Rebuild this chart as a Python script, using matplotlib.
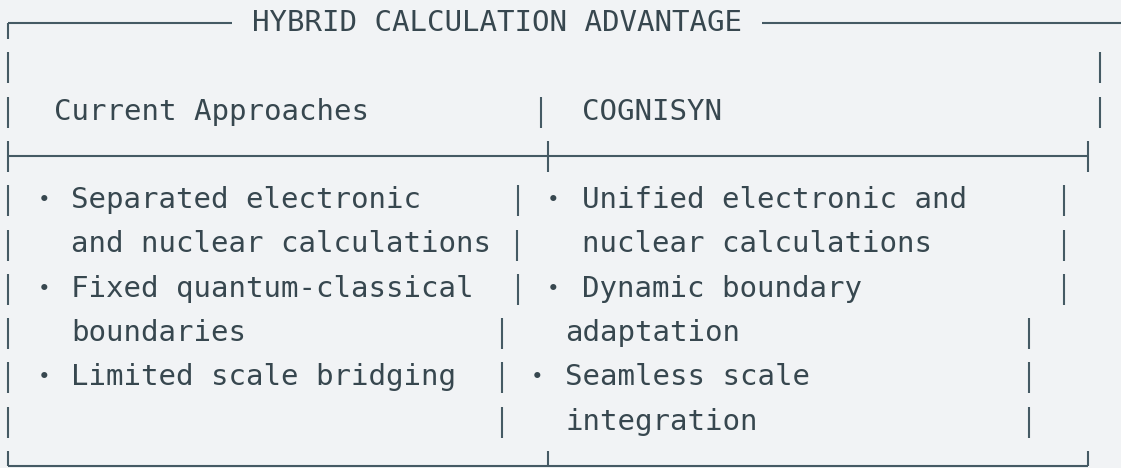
import matplotlib
matplotlib.use('Agg')
import matplotlib.pyplot as plt

#######################################################
# Content of the box
#######################################################
title = 'HYBRID CALCULATION ADVANTAGE'
headers = ['Current Approaches', 'COGNISYN']

# (bullet, text) per body row
left_rows = [('•', 'Separated electronic'),
             ('', 'and nuclear calculations'),
             ('•', 'Fixed quantum-classical'),
             ('', 'boundaries'),
             ('•', 'Limited scale bridging'),
             ('', '')]
right_rows = [('•', 'Unified electronic and'),
              ('', 'nuclear calculations'),
              ('•', 'Dynamic boundary'),
              ('', 'adaptation'),
              ('•', 'Seamless scale'),
              ('', 'integration')]

#######################################################
# Layout (pixels, origin top-left)
#######################################################
W, H = 1121, 468
row_pitch = 44.3
base0 = 31.0
baselines = [base0 + i * row_pitch for i in range(11)]

# x of the middle / right bars for the 6 body rows (text is ragged)
mid_bar = [518, 517, 518, 502, 502, 502]
right_bar = [1064, 1064, 1064, 1029, 1029, 1029]
right_bullet = [553, 553, 553, 537, 537, 537]
right_text = [582, 582, 582, 565, 565, 565]

txt_col = '#37474f'
line_col = '#455a64'
bg = '#f1f3f5'
fsize = 21
mono = 'DejaVu Sans Mono'
lw = 1.5

fig = plt.figure(figsize=(W / 100, H / 100), dpi=100, facecolor=bg)
ax = fig.add_axes([0, 0, 1, 1])
ax.set_facecolor(bg)
ax.set_xlim(0, W)
ax.set_ylim(H, 0)
ax.axis('off')


def put(x, row, s, ha='left'):
    ax.text(x, baselines[row], s, ha=ha, va='baseline',
            fontsize=fsize, family=mono, color=txt_col)


def bullet(x, row, s):
    # small bullet sitting at x-height centre
    ax.text(x, baselines[row] - 8, s, ha='center', va='center',
            fontsize=fsize * 0.72, family=mono, color=txt_col)


def vbar(x, row, top=-23, bot=8):
    b = baselines[row]
    ax.plot([x, x], [b + top, b + bot], color=line_col, lw=lw,
            solid_capstyle='butt')


def hline(x0, x1, row, off=-8):
    y = baselines[row] + off
    ax.plot([x0, x1], [y, y], color=line_col, lw=lw, solid_capstyle='butt')


# row 0 : top border with title
hline(8, 232, 0)
vbar(8, 0, top=-8, bot=8)
put(252, 0, title)
hline(762, W, 0)

# row 1 : empty
vbar(8, 1)
vbar(1100, 1)

# row 2 : headers
vbar(8, 2)
put(54, 2, headers[0])
vbar(541, 2)
put(582, 2, headers[1])
vbar(1100, 2)

# row 3 : separator
hline(8, 1088, 3)
vbar(8, 3)
vbar(548, 3)
vbar(1088, 3)

# rows 4..9 : bullet lists
for i in range(6):
    r = i + 4
    vbar(8, r)
    lb, lt = left_rows[i]
    if lb:
        bullet(43.6, r, lb)
    if lt:
        put(71, r, lt)
    vbar(mid_bar[i], r)
    rb, rt = right_rows[i]
    if rb:
        bullet(right_bullet[i], r, rb)
    if rt:
        put(right_text[i], r, rt)
    vbar(right_bar[i], r)

# row 10 : bottom border
hline(8, 1088, 10)
vbar(8, 10, top=-23, bot=-8)
vbar(548, 10, top=-23, bot=-8)
vbar(1088, 10, top=-23, bot=-8)

plt.savefig('out.png', dpi=100, facecolor=bg)
plt.close()
